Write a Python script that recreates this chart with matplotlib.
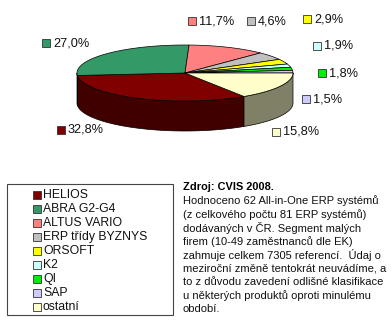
import numpy as np
import matplotlib
matplotlib.use('Agg')
import matplotlib.pyplot as plt
from matplotlib.patches import Polygon, Rectangle
from matplotlib.colors import to_rgb

plt.rcParams['font.family'] = ['Liberation Sans', 'DejaVu Sans']

# data
names = ['HELIOS', 'ABRA G2-G4', 'ALTUS VARIO', 'ERP třídy BYZNYS', 'ORSOFT',
         'K2', 'QI', 'SAP', 'ostatní']
values = [32.8, 27.0, 11.7, 4.6, 2.9, 1.9, 1.8, 1.5, 15.8]
colors = ['#800000', '#339966', '#FF8080', '#C0C0C0', '#FFFF00',
          '#CCFFFF', '#00EE00', '#CCCCFF', '#FFFFCC']
note_title = 'Zdroj: CVIS 2008.'
note_lines = ['Hodnoceno 62 All-in-One ERP systémů',
              '(z celkového počtu 81 ERP systémů)',
              'dodávaných v ČR. Segment malých',
              'firem (10-49 zaměstnanců dle EK)',
              'zahmuje celkem 7305 referencí.  Údaj o',
              'meziroční změně tentokrát neuvádíme, a',
              'to z důvodu zavedení odlišné klasifikace',
              'u některých produktů oproti minulému',
              'období.']

fig = plt.figure(figsize=(3.92, 3.32), dpi=100)
ax = fig.add_axes([0, 0, 1, 1])
ax.set_xlim(0, 392)
ax.set_ylim(332, 0)
ax.axis('off')

# pseudo 3D pie
cx, cy, rx, ry, depth = 185, 73, 108, 28, 30

def pt(a):
    r = np.radians(a)
    return cx + rx * np.cos(r), cy - ry * np.sin(r)

total = sum(values)
start = 360 - values[-1] / total * 360  # first slice starts where "ostatní" ends
spans = []
cur = start
for v in values:
    a1 = cur
    a0 = cur - v / total * 360
    spans.append((a0, a1))
    cur = a0

# side walls (front half only)
for (a0, a1), c in zip(spans, colors):
    dark = tuple(x * 0.5 for x in to_rgb(c))
    for off in (-360, 0, 360):
        lo = max(a0 + off, 180)
        hi = min(a1 + off, 360)
        if hi > lo:
            aa = np.linspace(lo, hi, 60)
            top = [pt(a) for a in aa]
            bot = [(x, y + depth) for x, y in top[::-1]]
            ax.add_patch(Polygon(top + bot, closed=True, fc=dark, ec='black', lw=0.5))

# top faces
for (a0, a1), c in zip(spans, colors):
    aa = np.linspace(a0, a1, 100)
    poly = [(cx, cy)] + [pt(a) for a in aa]
    ax.add_patch(Polygon(poly, closed=True, fc=c, ec='black', lw=0.5))

# percentage labels
label_pos = [(61, 130), (46, 43), (192, 21), (251, 21), (307, 19),
             (317, 46), (322, 73), (306, 99), (276, 132)]
for (x, y), v, c in zip(label_pos, values, colors):
    ax.plot(x, y, marker='s', ms=5.4, mfc=c, mec='#333333', mew=0.6)
    ax.text(x + 7, y, f'{v:.1f}'.replace('.', ',') + '%', fontsize=9.2,
            va='center', ha='left', color='#111111')

# legend box
ax.add_patch(Rectangle((7, 184), 166, 131, fill=False, ec='#444444', lw=0.8))
for i, (n, c) in enumerate(zip(names, colors)):
    y = 195 + i * 13.95
    ax.plot(37, y, marker='s', ms=5.2, mfc=c, mec='#333333', mew=0.6)
    ax.text(43, y, n, fontsize=8.8, va='center', ha='left', color='#111111')

# note
ax.text(183, 187, note_title, fontsize=7.9, fontweight='bold', va='center', ha='left')
for i, line in enumerate(note_lines):
    ax.text(183, 201 + i * 13.5, line, fontsize=8.0, va='center', ha='left',
            color='#111111')

fig.savefig('out.png', dpi=100)
